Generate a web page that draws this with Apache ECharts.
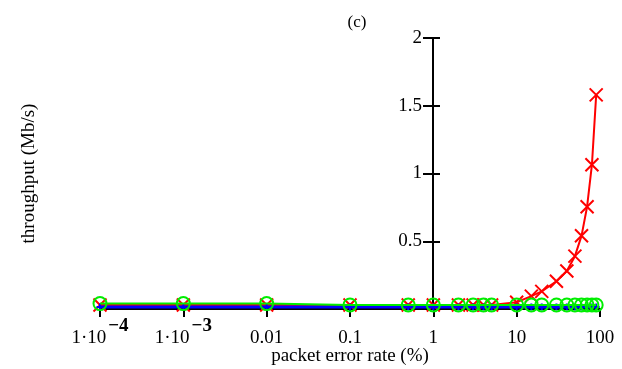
<!DOCTYPE html>
<html>
<head>
<meta charset="utf-8">
<script src="https://cdn.jsdelivr.net/npm/echarts@6/dist/echarts.min.js"></script>
<style>
  html, body { margin: 0; padding: 0; background: #fff; }
  #chart { width: 622px; height: 369px; }
</style>
</head>
<body>
<div id="chart"></div>
<script>
// packet error rate (%) for each point
const errRate = [1e-4, 1e-3, 0.01, 0.1, 0.5, 1, 2, 3, 4, 5, 10, 15, 20, 30, 40, 50, 60, 70, 80, 90];
// throughput (Mb/s)
const redVals = [0.03, 0.03, 0.03, 0.03, 0.03, 0.03, 0.03, 0.03, 0.03, 0.03, 0.05, 0.095, 0.13, 0.205, 0.28, 0.39, 0.54, 0.755, 1.065, 1.58];
const blueVals = [0.015, 0.015, 0.015, 0.015, 0.015, 0.015, 0.015, 0.015, 0.015, 0.015, 0.015, 0.015, 0.015, 0.015, 0.015, 0.015, 0.015, 0.015, 0.015, 0.015];
const greenVals = [0.04, 0.04, 0.04, 0.03, 0.03, 0.03, 0.03, 0.03, 0.03, 0.03, 0.03, 0.03, 0.03, 0.03, 0.03, 0.03, 0.03, 0.03, 0.03, 0.03];
const xTickLabels = {
  '0.0001': '{b|1·10}{s|−4}',
  '0.001': '{b|1·10}{s|−3}',
  '0.01': '{c|0.01}',
  '0.1': '{c|0.1}',
  '1': '{c|1}',
  '10': '{c|10}',
  '100': '{c|100}'
};

const FONT = 'Liberation Serif';
const pairs = (ys) => errRate.map((x, i) => [x, ys[i]]);

const chart = echarts.init(document.getElementById('chart'));

const crossPath = 'path://M0,0L10,10M10,0L0,10';
const plusPath = 'path://M5,0L5,10M0,5L10,5';

chart.setOption({
  animation: false,
  title: {
    text: '(c)',
    left: 352,
    top: 9,
    textAlign: 'center',
    textStyle: { fontFamily: FONT, fontSize: 17, fontWeight: 'normal', color: '#000' }
  },
  grid: { left: 100, right: 22, top: 38, bottom: 60, outerBoundsMode: 'none', containLabel: false },
  xAxis: {
    type: 'log',
    logBase: 10,
    min: 1e-4,
    max: 100,
    interval: 1,
    name: 'packet error rate (%)',
    nameLocation: 'middle',
    nameGap: 38,
    nameMoveOverlap: false,
    nameTextStyle: { fontFamily: FONT, fontSize: 19, color: '#000' },
    axisLine: { onZero: false, lineStyle: { color: '#000', width: 2 } },
    axisTick: { show: true, length: 8, lineStyle: { color: '#000', width: 2 } },
    splitLine: { show: false },
    minorTick: { show: false },
    axisLabel: {
      margin: 8,
      formatter: (v) => xTickLabels[String(+v.toPrecision(6))] || '',
      rich: {
        b: { fontFamily: FONT, fontSize: 19, color: '#000', verticalAlign: 'bottom' },
        s: { fontFamily: FONT, fontSize: 19, fontWeight: 'bold', color: '#000', verticalAlign: 'bottom', padding: [0, 0, 12, 2] },
        c: { fontFamily: FONT, fontSize: 19, color: '#000', verticalAlign: 'bottom', padding: [12, 0, 0, 0] }
      }
    }
  },
  yAxis: [{
    type: 'value',
    min: 0,
    max: 2,
    interval: 0.5,
    position: 'left',
    offset: -333,
    name: 'throughput (Mb/s)',
    nameLocation: 'middle',
    nameGap: 394,
    nameMoveOverlap: false,
    nameTextStyle: { fontFamily: FONT, fontSize: 19, color: '#000' },
    axisLine: { show: true, lineStyle: { color: '#000', width: 2 } },
    axisTick: { show: true, length: 10, lineStyle: { color: '#000', width: 2 } },
    splitLine: { show: false },
    axisLabel: {
      margin: 11,
      fontFamily: FONT,
      fontSize: 19,
      color: '#000',
      formatter: (v) => (v === 0 ? '' : String(v))
    }
  }, {
    type: 'value',
    min: 0,
    max: 2,
    interval: 0.5,
    position: 'left',
    offset: -333,
    axisLine: { show: false },
    axisTick: { show: true, inside: true, length: 7, lineStyle: { color: '#000', width: 2 } },
    splitLine: { show: false },
    axisLabel: { show: false }
  }],
  series: [
    {
      name: 'red',
      type: 'line',
      data: pairs(redVals),
      symbol: crossPath,
      symbolSize: 13,
      showAllSymbol: true,
      lineStyle: { color: '#ff0000', width: 2 },
      itemStyle: { color: 'rgba(0,0,0,0)', borderColor: '#ff0000', borderWidth: 2 },
      z: 3
    },
    {
      name: 'blue',
      type: 'line',
      data: pairs(blueVals),
      symbol: plusPath,
      symbolSize: 7,
      showAllSymbol: true,
      lineStyle: { color: '#0000ff', width: 3 },
      itemStyle: { color: 'rgba(0,0,0,0)', borderColor: '#0000ff', borderWidth: 2 },
      z: 4
    },
    {
      name: 'green',
      type: 'line',
      data: pairs(greenVals),
      symbol: 'circle',
      symbolSize: 13,
      showAllSymbol: true,
      lineStyle: { color: '#00ee00', width: 2 },
      itemStyle: { color: 'rgba(0,0,0,0)', borderColor: '#00ee00', borderWidth: 2 },
      z: 5
    }
  ]
});
</script>
</body>
</html>
